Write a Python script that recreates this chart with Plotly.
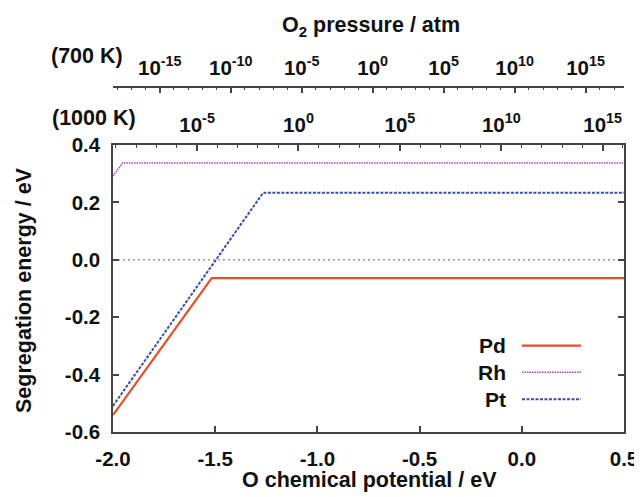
import numpy as np
import plotly.graph_objects as go

# ---------------- data ----------------
mu_range = [-2.0, 0.5]                      # O chemical potential axis (eV)
x_ticks = [-2.0, -1.5, -1.0, -0.5, 0.0, 0.5]
x_ticktext = ["-2.0", "-1.5", "-1.0", "-0.5", "0.0", "0.5"]
y_range = [-0.6, 0.4]
y_ticks = [-0.6, -0.4, -0.2, 0.0, 0.2, 0.4]
y_ticktext = ["-0.6", "-0.4", "-0.2", "0.0", "0.2", "0.4"]

series_names = ["Pd", "Rh", "Pt"]
pd_mu = [-2.0, -1.517, 0.5]
pd_E = [-0.541, -0.064, -0.064]
rh_mu = [-2.0, -1.953, 0.5]
rh_E = [0.292, 0.337, 0.337]
pt_mu = [-2.0, -1.265, 0.5]
pt_E = [-0.509, 0.234, 0.234]

zero_E = [0.0, 0.0]

# pressure scales: mu at p = 1 atm and temperatures
temps = [700, 1000]
mu_at_1atm = {700: -0.7295, 1000: -1.0925}
p700_exps = [-15, -10, -5, 0, 5, 10, 15]
p1000_exps = [-5, 0, 5, 10, 15]

kB = 8.617e-5
def mu_to_logp(mu, T):
    return (mu - mu_at_1atm[T]) / (0.5 * kB * T * np.log(10))

rng700 = [mu_to_logp(m, 700) for m in mu_range]
rng1000 = [mu_to_logp(m, 1000) for m in mu_range]

def sup(e):
    return "10<sup>%d</sup>" % e

# ---------------- styling ----------------
FONT = "Liberation Sans, Arial, Helvetica, sans-serif"
TXT = "#111111"
AX = "#444444"
tickfont = dict(family=FONT, size=20.5, color=TXT, weight="bold")
C_PD, C_RH, C_PT = "#e4502c", "#a848a8", "#3a4cb0"

fig = go.Figure()
fig.add_trace(go.Scatter(x=mu_range, y=zero_E, mode="lines",
                         line=dict(color="#999999", width=1.5, dash="2px,3px"),
                         showlegend=False, hoverinfo="skip"))
fig.add_trace(go.Scatter(x=rh_mu, y=rh_E, mode="lines", name="Rh",
                         line=dict(color=C_RH, width=1.5, dash="1.5px,1px")))
fig.add_trace(go.Scatter(x=pt_mu, y=pt_E, mode="lines", name="Pt",
                         line=dict(color=C_PT, width=2, dash="3px,1.5px")))
fig.add_trace(go.Scatter(x=pd_mu, y=pd_E, mode="lines", name="Pd",
                         line=dict(color=C_PD, width=2.2)))
# carriers for the pressure axes
fig.add_trace(go.Scatter(x=rng1000, y=[None, None], xaxis="x2", yaxis="y",
                         mode="lines", showlegend=False, hoverinfo="skip"))
fig.add_trace(go.Scatter(x=rng700, y=[None, None], xaxis="x3", yaxis="y",
                         mode="lines", showlegend=False, hoverinfo="skip"))

# page body has an 8px margin; figure is sized/offset to compensate
OFF = 8
PL, PR, PT_, PB = 113, 624, 20, 432     # plot-paper box in screen pixels
ydom_top = (PB - 145) / float(PB - PT_)
pos700 = (PB - 86.7) / float(PB - PT_)

common = dict(showgrid=False, zeroline=False, automargin=False, tickfont=tickfont,
              showline=True, linecolor=AX, linewidth=1.5,
              ticks="inside", ticklen=6, tickwidth=1.5, tickcolor=AX)

fig.update_layout(
    width=642 - OFF, height=497 - OFF,
    margin=dict(l=PL - OFF, r=642 - PR, t=PT_ - OFF, b=497 - PB, autoexpand=False),
    paper_bgcolor="white", plot_bgcolor="white",
    showlegend=False,
    xaxis=dict(range=mu_range, tickmode="array", tickvals=x_ticks, ticktext=x_ticktext,
               mirror=False, ticklabelstandoff=8, **common),
    xaxis2=dict(overlaying="x", anchor="y", side="top", range=rng1000,
                tickmode="array", tickvals=p1000_exps, ticktext=[sup(e) for e in p1000_exps],
                minor=dict(tickmode="array", tickvals=list(range(-9, 17)),
                           ticks="inside", ticklen=3, tickwidth=1.2, tickcolor=AX),
                ticklabelstandoff=3, **common),
    xaxis3=dict(overlaying="x", anchor="free", position=pos700, side="top", range=rng700,
                tickmode="array", tickvals=p700_exps, ticktext=[sup(e) for e in p700_exps],
                minor=dict(tickmode="array", tickvals=list(range(-18, 18)),
                           ticks="inside", ticklen=3, tickwidth=1.2, tickcolor=AX),
                ticklabelstandoff=3, **common),
    yaxis=dict(range=y_range, domain=[0, ydom_top], tickmode="array", tickvals=y_ticks,
               ticktext=y_ticktext, mirror="ticks", ticklabelstandoff=7, **common),
)

def px_x(x):
    return (x - PL) / float(PR - PL)

def px_y(y):
    return (PB - y) / float(PB - PT_)

titlefont = dict(family=FONT, size=21.5, color=TXT, weight="bold")
anns = [
    dict(text="O chemical potential / eV", x=px_x(369), y=px_y(480)),
    dict(text="Segregation energy / eV", x=px_x(24), y=px_y(290), textangle=-90),
    dict(text="O<sub>2</sub> pressure / atm", x=px_x(371), y=px_y(27)),
    dict(text="(700 K)", x=px_x(87), y=px_y(56)),
    dict(text="(1000 K)", x=px_x(94), y=px_y(118.5)),
]
for a in anns:
    fig.add_annotation(xref="paper", yref="paper", showarrow=False,
                       xanchor="center", yanchor="middle", font=titlefont, **a)

# legend (text left of line sample)
legend_styles = {
    "Pd": dict(color=C_PD, width=2.2),
    "Rh": dict(color=C_RH, width=1.5, dash="1.5px,1px"),
    "Pt": dict(color=C_PT, width=2, dash="3px,1.5px"),
}
leg_y = [345.7, 372.3, 399.3]
for name, yy in zip(series_names, leg_y):
    fig.add_annotation(xref="paper", yref="paper", showarrow=False, text=name,
                       x=px_x(508), y=px_y(yy), xanchor="right", yanchor="middle",
                       font=dict(family=FONT, size=21, color=TXT, weight="bold"))
    fig.add_shape(type="line", xref="paper", yref="paper",
                  x0=px_x(522), x1=px_x(581), y0=px_y(yy), y1=px_y(yy),
                  line=legend_styles[name])

fig.write_html("out.html")
